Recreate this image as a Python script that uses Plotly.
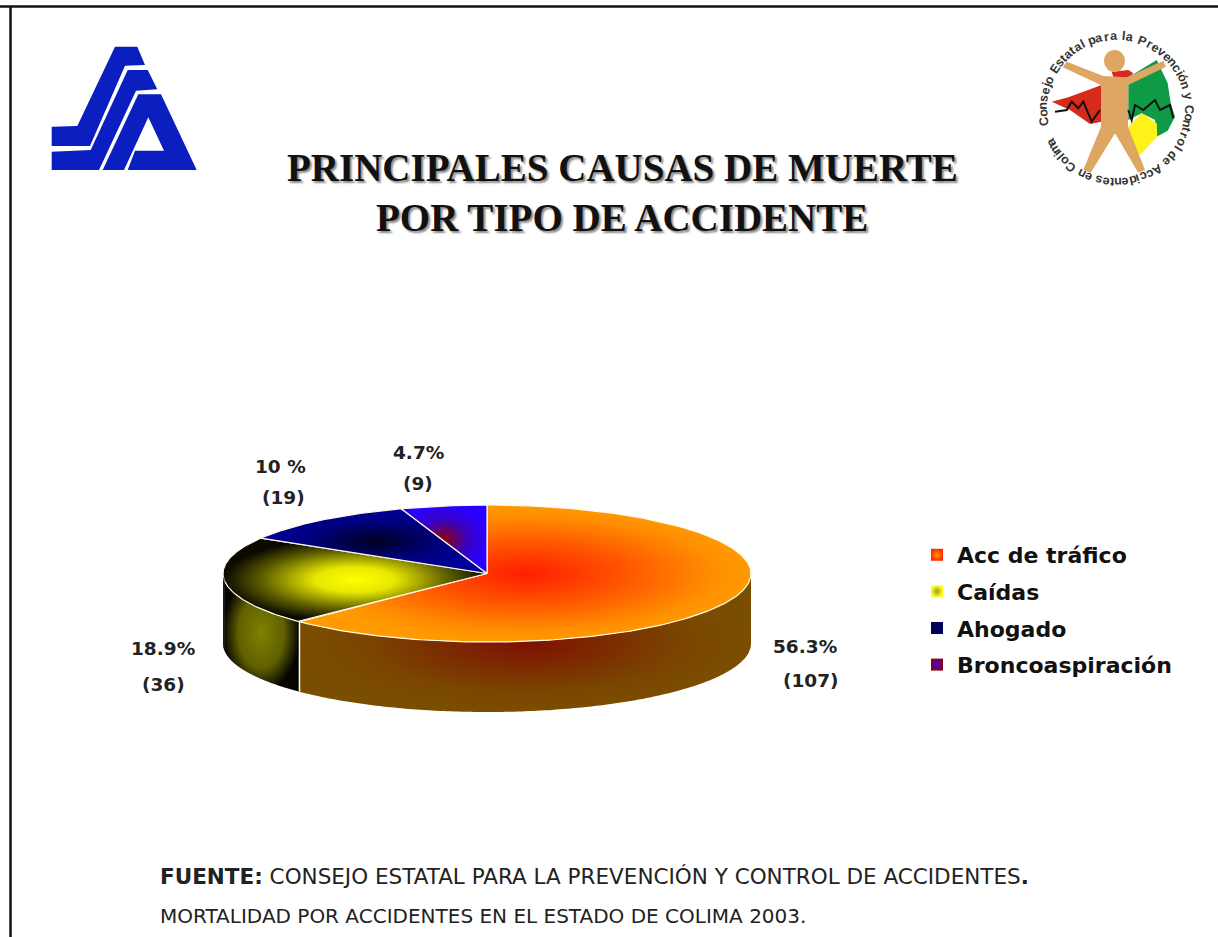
import math
import numpy as np
import plotly.graph_objects as go

# ---- data ----
categories = ["Acc de tráfico", "Caídas", "Ahogado", "Broncoaspiración"]
counts = [107, 36, 19, 9]
percent_labels = ["56.3%", "18.9%", "10 %", "4.7%"]

# ---- styles ----
top_scales = [
    [[0, "#FF1E00"], [0.4, "#FF5000"], [0.85, "#FF9000"], [1, "#FF9A00"]],
    [[0, "#FFFF00"], [0.3, "#E8E800"], [0.7, "#606000"], [1, "#0A0A00"]],
    [[0, "#000022"], [0.6, "#000080"], [1, "#000099"]],
    [[0, "#8A0010"], [0.55, "#3A00C0"], [1, "#2A00FF"]],
]
side_scales = [
    [[0, "#7F1000"], [0.7, "#7A4500"], [1, "#7A4E00"]],
    [[0, "#808000"], [0.6, "#606000"], [1, "#050500"]],
]
legend_center = ["#FF2A00", "#FFFF30", "#000050", "#8A0010"]
legend_edge = ["#FF9A00", "#A0A000", "#000070", "#2A00FF"]
LOGO_BLUE = "#0B1FC0"
TAN = "#DDA662"

W, H = 1218, 937
CX, CY, RX, RY, DEPTH = 487, 573.5, 264, 68.5, 70


def ell(theta):
    return CX + RX * np.sin(theta), CY - RY * np.cos(theta)


def radial(scale):
    return dict(type="radial", colorscale=scale)


fig = go.Figure()
total = sum(counts)
edges = np.cumsum([0] + counts) / total * 2 * math.pi

# side walls (only the front half of the rim is visible)
for i in range(2):
    a = max(edges[i], math.pi / 2)
    b = min(edges[i + 1], 3 * math.pi / 2)
    t = np.linspace(a, b, 160)
    x, y = ell(t)
    xs = list(x) + list(x[::-1]) + [x[0]]
    ys = list(y) + list((y + DEPTH)[::-1]) + [y[0]]
    fig.add_trace(go.Scatter(
        x=xs, y=ys, mode="none", fill="toself", showlegend=False, hoverinfo="skip",
        fillgradient=radial(side_scales[i])))

# seam between the two visible walls
sx, sy = ell(edges[1])
fig.add_trace(go.Scatter(x=[sx, sx], y=[sy, sy + DEPTH], mode="lines",
                         line=dict(color="white", width=1.5),
                         showlegend=False, hoverinfo="skip"))

# top faces
for i in range(4):
    t = np.linspace(edges[i], edges[i + 1], 200)
    x, y = ell(t)
    xs = [CX] + list(x) + [CX]
    ys = [CY] + list(y) + [CY]
    fig.add_trace(go.Scatter(
        x=xs, y=ys, mode="lines", fill="toself", showlegend=False, name=categories[i],
        line=dict(color="#FFFBE8", width=1.2),
        fillgradient=radial(top_scales[i])))

# legend entries
for i, name in enumerate(categories):
    fig.add_trace(go.Scatter(
        x=[-100], y=[-100], mode="markers", name=name, legendgroup=name,
        marker=dict(symbol="square", size=12, color=legend_center[i],
                    gradient=dict(type="radial", color=legend_edge[i]), line=dict(width=0))))


def path(points, offset=(0, 0), scale=1.0, close=True):
    s = "M " + " L ".join(
        f"{offset[0] + px * scale:.1f},{offset[1] + py * scale:.1f}" for px, py in points)
    return s + (" Z" if close else "")


shapes = [
    dict(type="line", x0=0, x1=W, y0=6.5, y1=6.5, line=dict(color="#111", width=2.5)),
    dict(type="line", x0=10.5, x1=10.5, y0=6, y1=H, line=dict(color="#111", width=2.5)),
    dict(type="line", x0=CX - RX + 1, x1=CX - RX + 1, y0=577, y1=648,
         line=dict(color="#333", width=1)),
]

# SSA logo
logo_a = [
    [(345, 140), (412, 140), (435, 195), (375, 197), (270, 438), (155, 438), (155, 380), (232, 378)],
    [(383, 210), (443, 210), (472, 268), (408, 272), (297, 510), (155, 510), (155, 455), (272, 450)],
    [(415, 283), (483, 283), (590, 510), (383, 510), (405, 452), (492, 452), (445, 352), (372, 510), (308, 510)],
]
for poly in logo_a:
    shapes.append(dict(type="path", path=path(poly, (0, 0), 1 / 3),
                       fillcolor=LOGO_BLUE, line=dict(width=0)))

# Consejo logo
off, sc = (1000, 20), 1 / 3
emblem = [
    ([(305, 195), (305, 305), (270, 312), (210, 270), (155, 245), (205, 232), (250, 215)], "#D62A1C"),
    ([(335, 155), (385, 150), (400, 160), (380, 178), (340, 172)], "#D62A1C"),
    ([(385, 172), (470, 120), (503, 190), (512, 250), (525, 290), (503, 332), (470, 350), (465, 300), (425, 280), (385, 300)], "#0F9A45"),
    ([(385, 320), (425, 280), (470, 310), (472, 350), (420, 405), (385, 370)], "#FFF21A"),
    ([(200, 125), (310, 168), (380, 172), (490, 122), (498, 140), (385, 195), (384, 320), (435, 450),
      (415, 458), (345, 340), (272, 458), (250, 450), (303, 320), (303, 195), (188, 142)], TAN),
]
for poly, col in emblem:
    shapes.append(dict(type="path", path=path(poly, off, sc), fillcolor=col, line=dict(width=0)))
shapes.append(dict(type="circle", x0=1104, x1=1125, y0=50, y1=72, fillcolor=TAN, line=dict(width=0)))
for ecg in ([(165, 275), (200, 270), (215, 245), (235, 265), (250, 245), (275, 305), (300, 270)],
            [(385, 270), (395, 300), (405, 255), (430, 270), (465, 240), (480, 270), (510, 255), (520, 295)]):
    shapes.append(dict(type="path", path=path(ecg, off, sc, close=False),
                       line=dict(color="#111", width=2)))

annotations = []


def note(x, y, text, size, family="Liberation Sans", color="#111", anchor="center", **kw):
    annotations.append(dict(x=x, y=y, xref="x", yref="y", text=text, showarrow=False,
                            xanchor=anchor, yanchor="middle", align=anchor,
                            font=dict(size=size, family=family, color=color, **kw)))


# title
note(622, 167, "<b>PRINCIPALES CAUSAS DE MUERTE</b>", 39, "Liberation Serif",
     shadow="2px 2px 2px #888")
note(622, 217, "<b>POR TIPO DE ACCIDENTE</b>", 39, "Liberation Serif",
     shadow="2px 2px 2px #888")

# slice labels (percentage line, count line)
pct_pos = [(805, 646), (163, 648), (280, 466), (418, 452)]
cnt_pos = [(811, 680), (163, 684), (283, 497), (418, 483)]
for p, c, pct, n in zip(pct_pos, cnt_pos, percent_labels, counts):
    note(p[0], p[1], f"<b>{pct}</b>", 18.5, "DejaVu Sans", color="#222")
    note(c[0], c[1], f"<b>({n})</b>", 18.5, "DejaVu Sans", color="#222")

# source
note(158, 876, "<b>FUENTE:</b> CONSEJO ESTATAL PARA LA PREVENCIÓN Y CONTROL DE ACCIDENTES<b>.</b>",
     21.5, "DejaVu Sans", anchor="left", color="#222")
note(158, 916, "MORTALIDAD POR ACCIDENTES EN EL ESTADO DE COLIMA 2003.", 20, "DejaVu Sans",
     anchor="left", color="#222")

# circular logo text, one glyph at a time around the ring
ring_text = "Consejo Estatal para la Prevención y Control de Accidentes en Colima"
narrow = set("ijlt ")
wide = set("CEPA")
weights = [0.6 if c in narrow else 1.25 if c in wide else 1.0 for c in ring_text]
step = 349.0 / sum(weights)
ang = -103.0
for c, w in zip(ring_text, weights):
    ang += step * w / 2
    r = 73
    gx = 1116 + r * math.sin(math.radians(ang))
    gy = 109 - r * math.cos(math.radians(ang))
    annotations.append(dict(x=gx, y=gy, xref="x", yref="y", text=f"<b>{c}</b>", showarrow=False,
                            textangle=ang, xanchor="center", yanchor="middle",
                            font=dict(size=12.5, family="Liberation Sans", color="#333")))
    ang += step * w / 2

fig.update_layout(
    width=W, height=H, margin=dict(l=0, r=0, t=0, b=0),
    paper_bgcolor="white", plot_bgcolor="white",
    xaxis=dict(range=[0, W], visible=False, fixedrange=True),
    yaxis=dict(range=[H, 0], visible=False, fixedrange=True),
    shapes=shapes, annotations=annotations,
    legend=dict(x=917 / W, y=1 - 534 / H, xanchor="left", yanchor="top",
                bgcolor="rgba(0,0,0,0)", tracegroupgap=5, itemwidth=30,
                font=dict(size=22, family="DejaVu Sans", color="#111", weight="bold")),
    showlegend=True,
)
fig.write_html("out.html", config={"displayModeBar": False},
               post_script="document.body.style.margin='0';document.body.style.overflow='hidden';")
